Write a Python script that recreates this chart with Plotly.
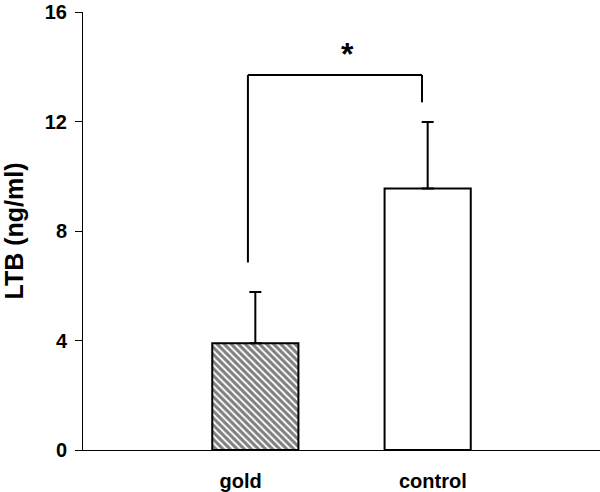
import plotly.graph_objects as go

# ---- data ----
categories = ["gold", "control"]
means = [3.9, 9.55]
sem_upper = [1.87, 2.43]
tick_values_y = [0, 4, 8, 12, 16]
tick_labels_y = ["0", "4", "8", "12", "16"]
y_title = "LTB (ng/ml)"
sig_label = "*"
# bracket (data units): left x, right x, top y, left bottom y, right bottom y
bracket_x = [-0.043, 0.967]
bracket_y = [13.7, 6.85, 12.7]

bar_x = list(range(len(categories)))
label_offsets = [-0.085, 0.03]
label_x = [bx + o for bx, o in zip(bar_x, label_offsets)]

FONT = "Liberation Sans, Arial, Helvetica, sans-serif"

fig = go.Figure()
fig.add_trace(go.Bar(
    x=bar_x,
    y=means,
    width=0.5,
    marker=dict(
        color="white",
        line=dict(color="black", width=2),
        pattern=dict(
            shape=["\\", ""],
            fgcolor="black",
            bgcolor="white",
            size=5,
            solidity=0.62,
        ),
    ),
    error_y=dict(
        type="data",
        symmetric=False,
        array=sem_upper,
        arrayminus=[0] * len(means),
        color="black",
        thickness=2,
        width=6,
    ),
    showlegend=False,
    hoverinfo="skip",
))

# significance bracket
fig.add_shape(type="line", xref="x", yref="y",
              x0=bracket_x[0], x1=bracket_x[0], y0=bracket_y[1], y1=bracket_y[0],
              line=dict(color="black", width=2))
fig.add_shape(type="line", xref="x", yref="y",
              x0=bracket_x[0], x1=bracket_x[1], y0=bracket_y[0], y1=bracket_y[0],
              line=dict(color="black", width=2))
fig.add_shape(type="line", xref="x", yref="y",
              x0=bracket_x[1], x1=bracket_x[1], y0=bracket_y[0], y1=bracket_y[2],
              line=dict(color="black", width=2))
fig.add_annotation(x=(bracket_x[0] + bracket_x[1]) / 2 + 0.07, y=bracket_y[0] + 0.75,
                   text="<b>%s</b>" % sig_label, showarrow=False, xref="x", yref="y",
                   font=dict(family=FONT, size=32, color="black"))

fig.update_layout(
    width=600, height=492,
    margin=dict(l=83, r=0, t=12, b=42),
    paper_bgcolor="white",
    plot_bgcolor="white",
    font=dict(family=FONT, color="black"),
    xaxis=dict(
        range=[-1, 2],
        tickvals=label_x,
        ticktext=["<b>%s</b>" % c for c in categories],
        tickfont=dict(family=FONT, size=20, color="black"),
        showline=True, linecolor="black", linewidth=1,
        showgrid=False, zeroline=False,
        ticks="", ticklabelstandoff=13,
    ),
    yaxis=dict(
        range=[0, 16],
        tickvals=tick_values_y,
        ticktext=["<b>%s</b>" % t for t in tick_labels_y],
        tickfont=dict(family=FONT, size=20, color="black"),
        showline=True, linecolor="black", linewidth=1,
        showgrid=False, zeroline=False,
        ticks="outside", ticklen=7, tickcolor="black", tickwidth=1,
        ticklabelstandoff=4,
        title=dict(text="<b>%s</b>" % y_title, font=dict(family=FONT, size=25, color="black"), standoff=14),
    ),
)

fig.write_html("out.html", config={"displayModeBar": False},
               post_script="document.body.style.margin='0';")
